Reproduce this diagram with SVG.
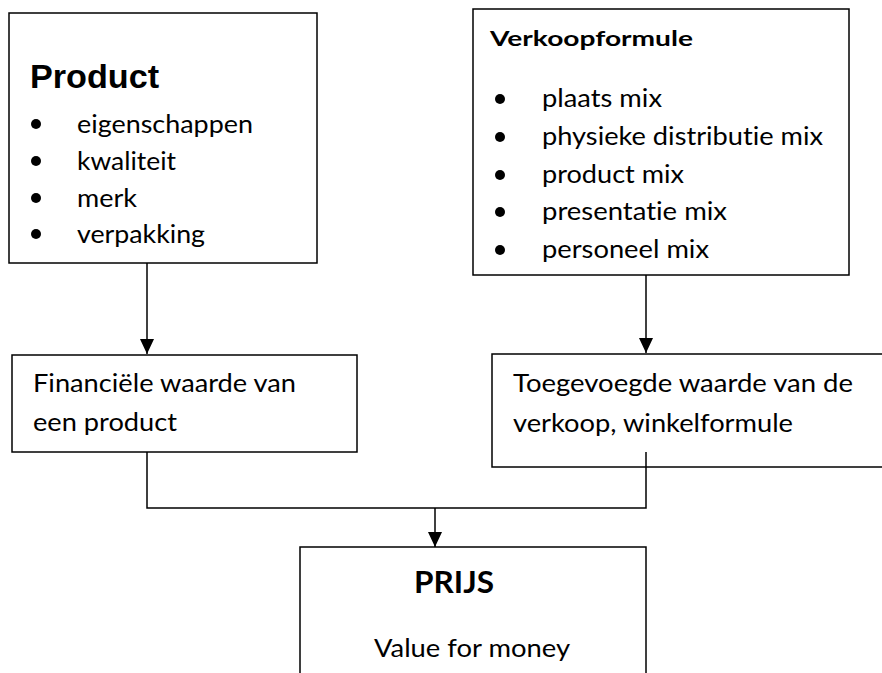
<svg xmlns="http://www.w3.org/2000/svg" width="882" height="673" viewBox="0 0 882 673">
  <defs>
    <style>
      .box { fill: #ffffff; stroke: #000000; stroke-width: 1.5; }
      .wire { fill: none; stroke: #000000; stroke-width: 1.5; }
      text { font-variant-ligatures: none; font-feature-settings: "liga" 0, "clig" 0; }
      .txt { font-family: Lato, "Liberation Sans", sans-serif; font-size: 25px; fill: #000000; }
      .bold { font-family: Lato, "Liberation Sans", sans-serif; font-weight: bold; fill: #000000; }
      .title { font-family: "Liberation Sans", Arial, sans-serif; font-weight: bold; font-size: 33px; fill: #000000; }
      .dot { fill: #000000; }
    </style>
    <marker id="arrow" viewBox="0 0 15 14" refX="15" refY="7" markerWidth="15" markerHeight="14" markerUnits="userSpaceOnUse" orient="auto">
      <path d="M0,0 L15,7 L0,14 Z" fill="#000000"/>
    </marker>
  </defs>

  <!-- Product -->
  <g id="product">
    <rect class="box" x="9" y="13" width="308" height="250"/>
    <text class="title" x="30" y="88" textLength="129" lengthAdjust="spacingAndGlyphs">Product</text>
    <circle class="dot" cx="36" cy="124" r="5"/>
    <text class="txt" x="77" y="133" textLength="176" lengthAdjust="spacingAndGlyphs">eigenschappen</text>
    <circle class="dot" cx="36" cy="161" r="5"/>
    <text class="txt" x="77" y="170" textLength="99" lengthAdjust="spacingAndGlyphs">kwaliteit</text>
    <circle class="dot" cx="36" cy="198" r="5"/>
    <text class="txt" x="77" y="207" textLength="60" lengthAdjust="spacingAndGlyphs">merk</text>
    <circle class="dot" cx="36" cy="234" r="5"/>
    <text class="txt" x="77" y="243" textLength="128" lengthAdjust="spacingAndGlyphs">verpakking</text>
  </g>

  <!-- Verkoopformule -->
  <g id="verkoopformule">
    <rect class="box" x="473" y="9" width="376" height="266"/>
    <text class="bold" font-size="21" x="490" y="46" textLength="203" lengthAdjust="spacingAndGlyphs">Verkoopformule</text>
    <circle class="dot" cx="500" cy="99" r="5"/>
    <text class="txt" x="542" y="107" textLength="120" lengthAdjust="spacingAndGlyphs">plaats mix</text>
    <circle class="dot" cx="500" cy="137" r="5"/>
    <text class="txt" x="542" y="145" textLength="281" lengthAdjust="spacingAndGlyphs">physieke distributie mix</text>
    <circle class="dot" cx="500" cy="175" r="5"/>
    <text class="txt" x="542" y="183" textLength="142" lengthAdjust="spacingAndGlyphs">product mix</text>
    <circle class="dot" cx="500" cy="212" r="5"/>
    <text class="txt" x="542" y="220" textLength="185" lengthAdjust="spacingAndGlyphs">presentatie mix</text>
    <circle class="dot" cx="500" cy="250" r="5"/>
    <text class="txt" x="542" y="258" textLength="167" lengthAdjust="spacingAndGlyphs">personeel mix</text>
  </g>

  <!-- Financiele waarde -->
  <g id="financieel">
    <rect class="box" x="12" y="355" width="345" height="97"/>
    <text class="txt" x="33" y="392" textLength="263" lengthAdjust="spacingAndGlyphs">Financiële waarde van</text>
    <text class="txt" x="33" y="431" textLength="144" lengthAdjust="spacingAndGlyphs">een product</text>
  </g>

  <!-- Toegevoegde waarde -->
  <g id="toegevoegd">
    <rect class="box" x="492" y="354" width="400" height="113"/>
    <text class="txt" x="513" y="392" textLength="340" lengthAdjust="spacingAndGlyphs">Toegevoegde waarde van de</text>
    <text class="txt" x="513" y="432" textLength="280" lengthAdjust="spacingAndGlyphs">verkoop, winkelformule</text>
  </g>

  <!-- Prijs -->
  <g id="prijs">
    <rect class="box" x="300" y="547" width="346" height="140"/>
    <text class="bold" font-size="30" x="414" y="593" textLength="80" lengthAdjust="spacingAndGlyphs">PRIJS</text>
    <text class="txt" x="374" y="657" textLength="196" lengthAdjust="spacingAndGlyphs">Value for money</text>
  </g>

  <!-- Connectors -->
  <g id="connectors">
    <path class="wire" d="M147,263 V354" marker-end="url(#arrow)"/>
    <path class="wire" d="M646,275 V353" marker-end="url(#arrow)"/>
    <path class="wire" d="M147,452 V508 H646 V452"/>
    <path class="wire" d="M435,508 V547" marker-end="url(#arrow)"/>
  </g>
</svg>
